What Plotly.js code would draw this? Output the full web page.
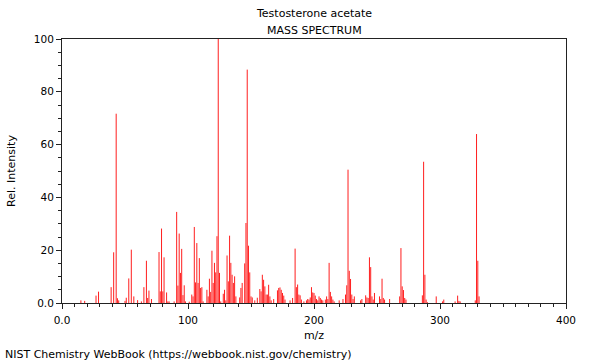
<!DOCTYPE html>
<html>
<head>
<meta charset="utf-8">
<script src="https://cdn.plot.ly/plotly-3.0.1.min.js"></script>
<style>html,body{margin:0;padding:0;background:#fff;}#chart{width:600px;height:360px;}</style>
</head>
<body>
<div id="chart"></div>
<script>
// m/z values and relative intensities
const mz = [15,18,27,29,39,41,43,44,45,50,51,53,55,57,60,63,65,67,68,69,71,77,78,79,80,81,83,84,85,89,
  91,92,93,94,95,96,97,98,101,103,104,105,106,107,108,109,110,111,112,115,116,117,118,119,120,121,122,123,124,125,126,
  128,129,130,131,132,133,134,135,136,137,138,141,142,143,145,146,147,148,149,150,151,153,155,157,158,159,160,161,162,163,164,165,166,168,
  171,172,173,174,175,176,177,181,183,185,186,187,188,189,190,192,194,195,196,197,198,199,200,201,202,203,204,205,206,207,209,210,211,212,213,214,215,216,
  220,223,225,226,227,228,229,230,231,232,237,238,241,242,243,244,245,246,247,248,252,253,254,255,256,260,268,269,270,271,272,273,
  286,287,288,289,290,297,302,303,312,314,315,316,328,329,330,331,332];
const intensity = [1.0,0.8,2.8,4.3,6.0,19.2,71.7,1.8,1.0,0.8,2.0,9.3,20.2,2.5,1.1,0.6,6.0,16.0,1.9,4.7,1.5,19.3,4.4,28.2,4.4,17.3,4.0,0.6,0.6,0.6,
  34.5,6.6,26.3,11.4,20.5,3.0,6.7,0.6,0.5,3.2,2.5,28.8,7.8,22.7,7.6,17.0,5.7,6.0,0.6,5.0,2.5,9.2,4.2,19.8,7.6,15.2,11.6,25.3,100,11.4,0.6,
  3.5,5.0,1.0,18.0,8.2,25.5,15.2,10.7,7.6,10.1,2.5,2.1,5.7,7.6,15.0,30.3,88.4,21.7,11.6,2.5,2.1,1.0,2.0,5.3,4.4,10.7,8.8,6.3,3.2,3.2,6.9,2.5,1.0,1.5,
  4.8,5.7,5.9,5.0,3.8,2.8,1.3,1.0,1.9,20.6,6.0,7.0,3.2,2.9,1.3,0.6,1.0,1.5,1.3,2.1,6.0,4.0,3.8,2.8,1.5,1.0,2.5,1.9,1.3,1.0,1.3,2.5,1.5,15.2,4.2,2.5,1.3,
  0.6,1.0,1.5,3.2,6.7,50.5,12.2,9.1,3.2,1.5,2.5,1.0,1.5,2.9,2.1,1.9,17.3,13.6,2.5,1.3,3.8,2.5,1.5,9.2,1.9,1.3,1.5,2.5,20.8,6.3,4.9,1.9,
  1.3,2.9,53.5,10.7,1.3,0.3,2.5,0.6,1.3,0.6,2.8,0.8,0.6,1.0,64.0,16.0,2.5];
const xTickVals = [0,100,200,300,400];
const xTickText = ['0.0','100','200','300','400'];
const yTickVals = [0,20,40,60,80,100];
const yTickText = ['0.0','20','40','60','80','100'];

const xs = [], ys = [];
mz.forEach((m, i) => { xs.push(m, m, null); ys.push(0, intensity[i], null); });

const font = {family: 'DejaVu Sans, sans-serif', size: 11, color: '#000'};
const axisCommon = {
  showline: true, mirror: true, linecolor: '#222', linewidth: 1,
  showgrid: false, zeroline: false, ticks: 'outside', ticklen: 5, tickwidth: 1, tickcolor: '#222',
  tickfont: {family: 'DejaVu Sans, sans-serif', size: 10.5, color: '#000'}
};

Plotly.newPlot('chart', [{
  type: 'scatter', mode: 'lines', x: xs, y: ys, connectgaps: false,
  line: {color: 'rgb(255,30,30)', width: 1}, hoverinfo: 'skip'
}], {
  width: 600, height: 360,
  margin: {l: 62, r: 34, t: 39, b: 57, pad: 0},
  paper_bgcolor: '#fff', plot_bgcolor: '#fff',
  font: font, showlegend: false,
  xaxis: Object.assign({}, axisCommon, {
    range: [0, 400], tickvals: xTickVals, ticktext: xTickText, ticklabelstandoff: 2,
    minor: {dtick: 10, ticks: 'outside', ticklen: 3, tickcolor: '#222', tickwidth: 1},
    title: {text: 'm/z', font: font, standoff: 6}
  }),
  yaxis: Object.assign({}, axisCommon, {
    range: [0, 100], tickvals: yTickVals, ticktext: yTickText,
    minor: {dtick: 5, ticks: 'outside', ticklen: 3, tickcolor: '#222', tickwidth: 1},
    title: {text: 'Rel. Intensity', font: font, standoff: 16}
  }),
  annotations: [
    {text: 'Testosterone acetate', xref: 'paper', yref: 'paper', x: 0.5, y: 1, yshift: 26, showarrow: false, font: font, xanchor: 'center', yanchor: 'middle'},
    {text: 'MASS SPECTRUM', xref: 'paper', yref: 'paper', x: 0.5, y: 1, yshift: 9, showarrow: false, font: font, xanchor: 'center', yanchor: 'middle'},
    {text: 'NIST Chemistry WebBook (https://webbook.nist.gov/chemistry)', xref: 'paper', yref: 'paper', x: 0, y: 0, xshift: -59, yshift: -51, showarrow: false, font: font, xanchor: 'left', yanchor: 'middle'}
  ]
}, {displayModeBar: false, staticPlot: true});
</script>
</body>
</html>
